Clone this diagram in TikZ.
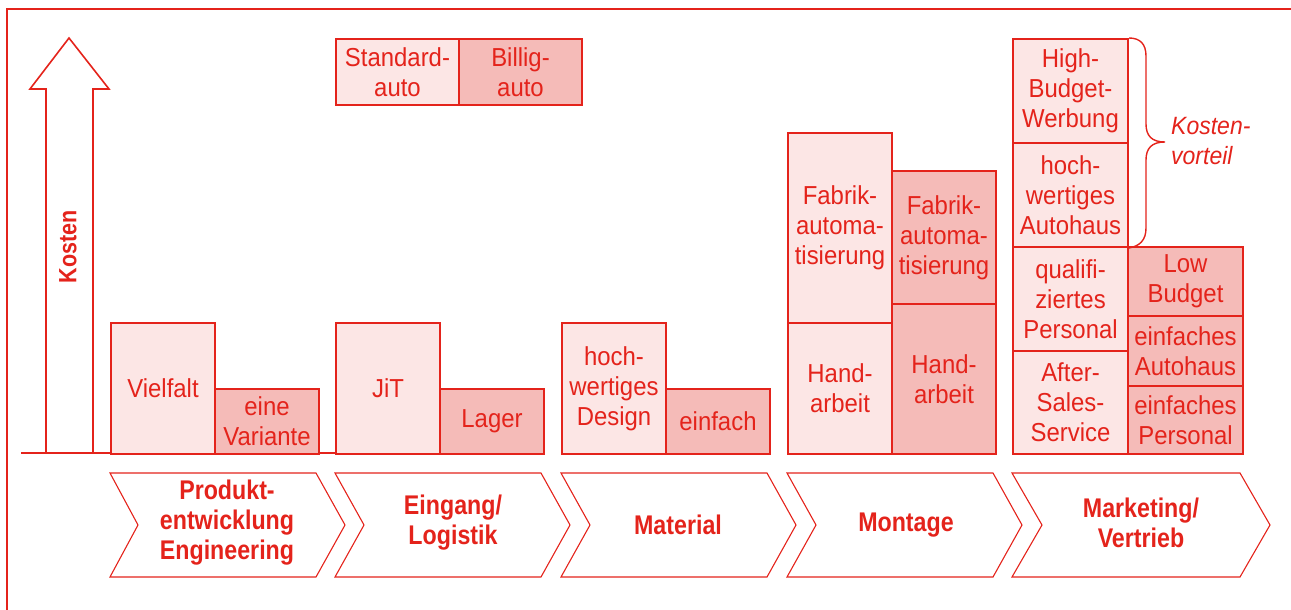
\documentclass[tikz,border=0pt]{standalone}
\usepackage{fontspec}
\newfontfamily\boxfont[FakeStretch=0.92]{Liberation Sans}
\newfontfamily\chevfont[FakeStretch=0.86]{Liberation Sans}
\definecolor{redA}{RGB}{228,35,27}
\definecolor{pinkL}{RGB}{252,230,229}
\definecolor{pinkD}{RGB}{245,187,184}
\tikzset{
  lbox/.style={draw=redA, fill=pinkL, line width=2pt, inner sep=0pt, align=center,
    anchor=north west, text=redA, font={\boxfont\fontsize{26}{30}\selectfont}},
  dbox/.style={lbox, fill=pinkD},
  chev/.style={draw=redA, line width=1.1pt, line join=miter},
  chevtext/.style={text=redA, align=center, inner sep=0pt, font={\chevfont\bfseries\fontsize{27}{30}\selectfont}},
  frameline/.style={draw=redA, line width=2pt},
  arrowline/.style={draw=redA, line width=1.6pt, line join=miter},
  bracestyle/.style={draw=redA, line width=1.4pt},
}
\begin{document}
\begin{tikzpicture}[x=1pt, y=-1pt]
\useasboundingbox (0,0) rectangle (1291,610);
% frame
\draw[frameline] (7,610) -- (7,9) -- (1291,9);
% cost arrow
\draw[arrowline] (46,453) -- (46,89) -- (30,89) -- (69,38) -- (109,89) -- (93,89) -- (93,453);
\node[text=redA, rotate=90, inner sep=0pt, font={\chevfont\bfseries\fontsize{25}{28}\selectfont}] (kosten) at (68,247) {Kosten};
% baseline
\draw[frameline] (21,453) -- (543,453);
% legend boxes
\node[lbox, minimum width=123pt, minimum height=66pt] (std) at (335,38) {Standard-\\auto};
\node[dbox, minimum width=123pt, minimum height=66pt] (bil) at (458,38) {Billig-\\auto};
% Produktentwicklung
\node[lbox, minimum width=104pt, minimum height=131pt] (viel) at (110,322) {Vielfalt};
\node[dbox, minimum width=104pt, minimum height=65pt] (eine) at (214,388) {eine\\Variante};
% Eingang
\node[lbox, minimum width=104pt, minimum height=131pt] (jit) at (335,322) {JiT};
\node[dbox, minimum width=104pt, minimum height=65pt] (lager) at (439,388) {Lager};
% Material
\node[lbox, minimum width=104pt, minimum height=131pt] (design) at (561,322) {hoch-\\wertiges\\Design};
\node[dbox, minimum width=104pt, minimum height=65pt] (einfach) at (665,388) {einfach};
% Montage
\node[lbox, minimum width=104pt, minimum height=190pt] (fa1) at (787,132) {Fabrik-\\automa-\\tisierung};
\node[lbox, minimum width=104pt, minimum height=131pt] (ha1) at (787,322) {Hand-\\arbeit};
\node[dbox, minimum width=104pt, minimum height=133pt] (fa2) at (891,170) {Fabrik-\\automa-\\tisierung};
\node[dbox, minimum width=104pt, minimum height=150pt] (ha2) at (891,303) {Hand-\\arbeit};
% Marketing
\node[lbox, minimum width=115pt, minimum height=104pt] (hbw) at (1012,38) {High-\\Budget-\\Werbung};
\node[lbox, minimum width=115pt, minimum height=104pt] (hwa) at (1012,142) {hoch-\\wertiges\\Autohaus};
\node[lbox, minimum width=115pt, minimum height=104pt] (qp) at (1012,246) {qualifi-\\ziertes\\Personal};
\node[lbox, minimum width=115pt, minimum height=103pt] (ass) at (1012,350) {After-\\Sales-\\Service};
\node[dbox, minimum width=115pt, minimum height=69pt] (lb) at (1127,246) {Low\\Budget};
\node[dbox, minimum width=115pt, minimum height=70pt] (ea) at (1127,315) {einfaches\\Autohaus};
\node[dbox, minimum width=115pt, minimum height=68pt] (ep) at (1127,385) {einfaches\\Personal};
% brace
\draw[bracestyle] (hbw.north east) .. controls (1140,38) and (1146,44) .. (1146,56) -- (1146,124)
  .. controls (1146,136) and (1152,142) .. (1165,142)
  .. controls (1152,142) and (1146,148) .. (1146,160) -- (1146,228)
  .. controls (1146,240) and (1140,246) .. (hwa.south east);
\node[anchor=west, text=redA, align=left, inner sep=0pt,
  font={\boxfont\itshape\fontsize{25}{30}\selectfont}] (kv) at (1171,141) {Kosten-\\vorteil};
% chevrons
\draw[chev] (110,473) -- (316,473) -- (345,525) -- (316,577) -- (110,577) -- (138,525) -- cycle;
\node[chevtext] (c1) at (227,523) {Produkt-\\entwicklung\\Engineering};
\draw[chev] (335,473) -- (541,473) -- (570,525) -- (541,577) -- (335,577) -- (364,525) -- cycle;
\node[chevtext] (c2) at (453,523) {Eingang/\\Logistik};
\draw[chev] (561,473) -- (767,473) -- (796,525) -- (767,577) -- (561,577) -- (590,525) -- cycle;
\node[chevtext] (c3) at (678,525) {Material};
\draw[chev] (787,473) -- (993,473) -- (1022,525) -- (993,577) -- (787,577) -- (816,525) -- cycle;
\node[chevtext] (c4) at (906,525) {Montage};
\draw[chev] (1012,473) -- (1240,473) -- (1270,525) -- (1240,577) -- (1012,577) -- (1042,525) -- cycle;
\node[chevtext] (c5) at (1141,523) {Marketing/\\Vertrieb};
\end{tikzpicture}
\end{document}
